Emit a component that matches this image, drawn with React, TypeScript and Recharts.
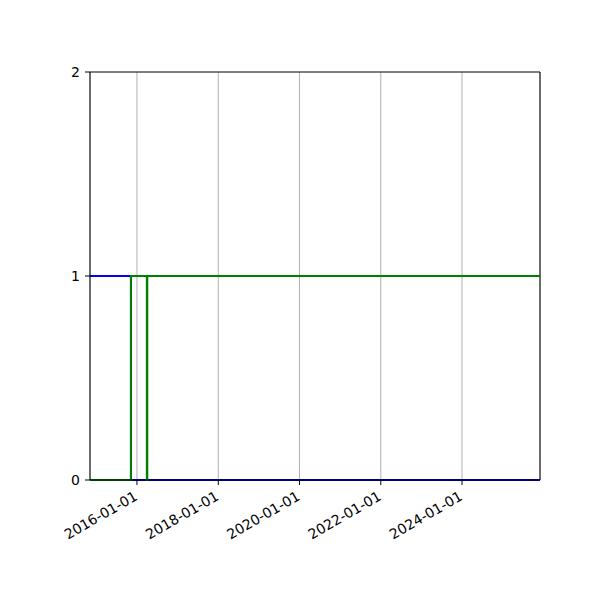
import {
  CartesianGrid,
  Line,
  LineChart,
  ReferenceLine,
  XAxis,
  YAxis,
} from "recharts";

const day = (s: string) => Date.parse(s + "T00:00:00Z");

const xStart = day("2014-11-05");
const xEnd = day("2025-12-02");

const dateTicks = ["2016-01-01", "2018-01-01", "2020-01-01", "2022-01-01", "2024-01-01"];
const valueTicks = [0, 1, 2];

const blueDates = ["2014-11-05", "2015-11-08", "2025-12-02"];
const blueValues = [1, 0, 0];

const greenDates = ["2014-11-05", "2015-11-08", "2016-03-30", "2016-04-03", "2025-12-02"];
const greenValues = [0, 1, 0, 1, 1];

const blueData = blueDates.map((d, i) => ({ t: day(d), v: blueValues[i] }));
const greenData = greenDates.map((d, i) => ({ t: day(d), v: greenValues[i] }));

const font = { fontFamily: "DejaVu Sans", fontSize: 14, fill: "#000" };

function DateTick(props: any) {
  const { x, y, payload } = props;
  const label = new Date(payload.value).toISOString().slice(0, 10);
  // right end of the rotated label sits just below-left of the tick mark
  return (
    <g transform={`translate(${x + 1.5}, ${y + 12}) rotate(-30)`}>
      <text x={0} y={0} textAnchor="end" {...font}>
        {label}
      </text>
    </g>
  );
}

export default function App() {
  return (
    <div style={{ position: "absolute", left: 0, top: 0, width: 600, height: 600, background: "#fff" }}>
      <LineChart
        width={600}
        height={600}
        margin={{ top: 72, right: 60, bottom: 0, left: 0 }}
      >
        <CartesianGrid
          vertical
          horizontal={false}
          stroke="#b0b0b0"
          strokeWidth={1}
        />
        <XAxis
          dataKey="t"
          type="number"
          scale="time"
          domain={[xStart, xEnd]}
          ticks={dateTicks.map(day)}
          interval={0}
          tick={<DateTick />}
          height={120}
          stroke="#000"
          tickSize={5}
          allowDataOverflow
        />
        <YAxis
          type="number"
          domain={[0, 2]}
          ticks={valueTicks}
          interval={0}
          width={90}
          stroke="#000"
          tickSize={5}
          tickMargin={5}
          tick={font}
        />
        <ReferenceLine y={2} stroke="#000" strokeWidth={1} />
        <ReferenceLine x={xEnd} stroke="#000" strokeWidth={1} />
        <Line
          data={blueData}
          dataKey="v"
          type="stepAfter"
          stroke="#0000ff"
          strokeWidth={2}
          dot={false}
          isAnimationActive={false}
        />
        <Line
          data={greenData}
          dataKey="v"
          type="stepAfter"
          stroke="#008000"
          strokeWidth={2}
          dot={false}
          isAnimationActive={false}
        />
      </LineChart>
    </div>
  );
}
